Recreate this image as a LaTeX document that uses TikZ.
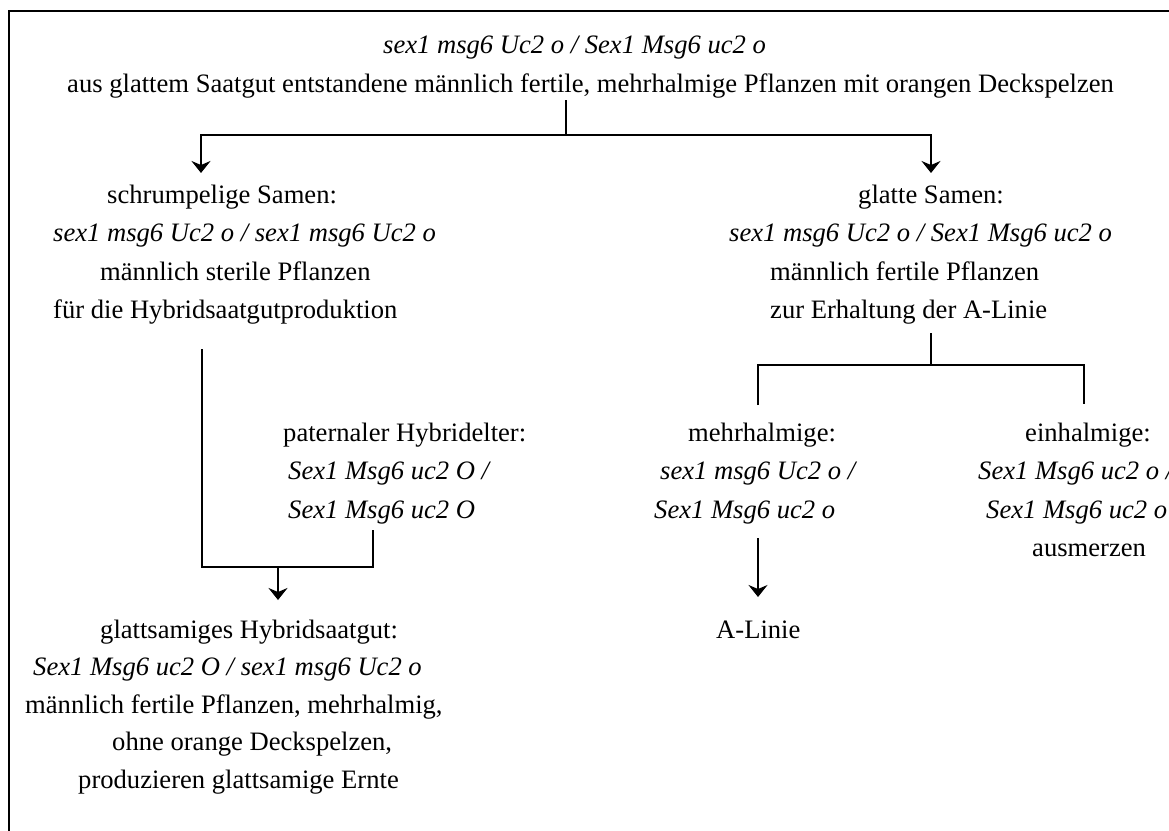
\documentclass[tikz,border=0pt]{standalone}
\usepackage{fontspec}
\setmainfont{Liberation Serif}
\usetikzlibrary{arrows.meta}
\begin{document}
\begin{tikzpicture}[x=1pt,y=-1pt,
  txt/.style={anchor=base west,inner sep=0pt,font=\fontsize{26.6}{32}\selectfont},
  gen/.style={anchor=base west,inner sep=0pt,font=\fontsize{26.6}{32}\selectfont\itshape},
  conn/.style={line width=1.8pt},
  arr/.style={conn,-{Stealth[length=12pt,width=19pt,inset=4pt]}}]
\useasboundingbox (0,0) rectangle (1169,830);
\fill[white] (0,0) rectangle (1169,830);
\clip (0,0) rectangle (1169,830);
% frame (only top and left edges visible)
\draw[conn] (9,840) -- (9,11) -- (1180,11);
% top
\node[gen] (t1) at (383,53) {sex1 msg6 Uc2 o / Sex1 Msg6 uc2 o};
\node[txt] (t2) at (67,92) {aus glattem Saatgut entstandene männlich fertile, mehrhalmige Pflanzen mit orangen Deckspelzen};
% left block
\node[txt] (l1) at (107,203) {schrumpelige Samen:};
\node[gen] (l2) at (53,241.5) {sex1 msg6 Uc2 o / sex1 msg6 Uc2 o};
\node[txt] (l3) at (100,280) {männlich sterile Pflanzen};
\node[txt] (l4) at (53,318.5) {für die Hybridsaatgutproduktion};
% right block
\node[txt] (r1) at (858,203) {glatte Samen:};
\node[gen] (r2) at (729,241.5) {sex1 msg6 Uc2 o / Sex1 Msg6 uc2 o};
\node[txt] (r3) at (770,280) {männlich fertile Pflanzen};
\node[txt] (r4) at (770,318.5) {zur Erhaltung der A-Linie};
% paternal
\node[txt] (p1) at (283,441) {paternaler Hybridelter:};
\node[gen] (p2) at (288,479.5) {Sex1 Msg6 uc2 O /};
\node[gen] (p3) at (288,518) {Sex1 Msg6 uc2 O};
% mehrhalmige
\node[txt] (m1) at (688,441) {mehrhalmige:};
\node[gen] (m2) at (660,479.5) {sex1 msg6 Uc2 o /};
\node[gen] (m3) at (654,518) {Sex1 Msg6 uc2 o};
% einhalmige
\node[txt] (e1) at (1025,441) {einhalmige:};
\node[gen] (e2) at (978,479.5) {Sex1 Msg6 uc2 o /};
\node[gen] (e3) at (986,518) {Sex1 Msg6 uc2 o};
\node[txt] (e4) at (1032,556.5) {ausmerzen};
% A-Linie
\node[txt] (a1) at (716,638) {A-Linie};
% bottom block
\node[txt] (b1) at (100,638) {glattsamiges Hybridsaatgut:};
\node[gen] (b2) at (33,675.5) {Sex1 Msg6 uc2 O / sex1 msg6 Uc2 o};
\node[txt] (b3) at (25,713) {männlich fertile Pflanzen, mehrhalmig,};
\node[txt] (b4) at (112,750.5) {ohne orange Deckspelzen,};
\node[txt] (b5) at (78,788) {produzieren glattsamige Ernte};
% connector coordinates
\coordinate (s0) at (566,100);
\coordinate (j0) at (566,135);
\coordinate (jl) at (201,135);
\coordinate (jr) at (931,135);
\coordinate (al) at (201,173);
\coordinate (ar) at (931,173);
\coordinate (s1) at (931,333);
\coordinate (j1) at (931,365);
\coordinate (j1l) at (758,365);
\coordinate (j1r) at (1084,365);
\coordinate (d1l) at (758,405);
\coordinate (d1r) at (1084,404);
\coordinate (s2) at (202,349);
\coordinate (k1) at (202,567);
\coordinate (k2) at (373,567);
\coordinate (s3) at (373,530);
\coordinate (k0) at (278,567);
\coordinate (k3) at (278,600);
\coordinate (m0) at (758,538);
\coordinate (m4) at (758,597);
% connectors
\draw[conn] (s0) -- (j0);
\draw[arr] (j0) -- (jl) -- (al);
\draw[arr] (j0) -- (jr) -- (ar);
\draw[conn] (s1) -- (j1);
\draw[conn] (d1l) -- (j1l) -- (j1r) -- (d1r);
\draw[conn] (s2) -- (k1) -- (k2) -- (s3);
\draw[arr] (k0) -- (k3);
\draw[arr] (m0) -- (m4);
\end{tikzpicture}
\end{document}
